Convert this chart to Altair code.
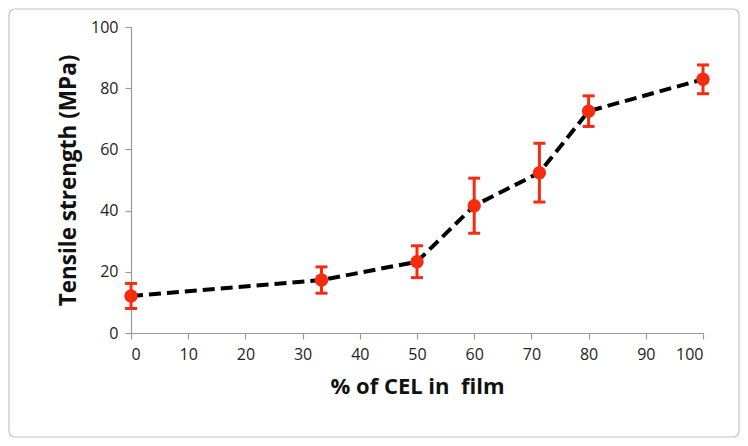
import altair as alt
import pandas as pd

cel_pct = [0, 33.3, 50, 60, 71.4, 80, 100]
strength = [12.1, 17.3, 23.3, 41.6, 52.4, 72.5, 82.9]
err = [4.1, 4.3, 5.2, 9.0, 9.6, 5.0, 4.7]

df = pd.DataFrame({"x": cel_pct, "y": strength, "e": err})
df["lo"] = df["y"] - df["e"]
df["hi"] = df["y"] + df["e"]

W, H = 572, 306
xs = alt.Scale(domain=[0, 100], nice=False)
ys = alt.Scale(domain=[0, 100], nice=False)

red = "#f52c10"

frame = alt.Chart(pd.DataFrame({"a": [0]})).mark_rect(
    fillOpacity=0, stroke="#c4c4c4", strokeWidth=1.2, cornerRadius=6
).encode(
    x=alt.value(-122), x2=alt.value(608), y=alt.value(-18), y2=alt.value(410)
)

base = alt.Chart(df)

line = base.mark_line(color="black", strokeWidth=4, strokeDash=[12, 6]).encode(
    x=alt.X("x:Q", scale=xs,
            axis=alt.Axis(title="% of CEL in\u00a0 film", values=list(range(0, 101, 10)))),
    y=alt.Y("y:Q", scale=ys,
            axis=alt.Axis(title="Tensile strength (MPa)", values=list(range(0, 101, 20)))),
)

bars = base.mark_rule(color=red, strokeWidth=3).encode(
    x=alt.X("x:Q", scale=xs), y=alt.Y("lo:Q", scale=ys), y2="hi:Q"
)
caps_lo = base.mark_tick(color=red, thickness=3, size=12, orient="horizontal", opacity=1).encode(
    x=alt.X("x:Q", scale=xs), y=alt.Y("lo:Q", scale=ys)
)
caps_hi = base.mark_tick(color=red, thickness=3, size=12, orient="horizontal", opacity=1).encode(
    x=alt.X("x:Q", scale=xs), y=alt.Y("hi:Q", scale=ys)
)
pts = base.mark_circle(color=red, size=180, opacity=1).encode(
    x=alt.X("x:Q", scale=xs), y=alt.Y("y:Q", scale=ys)
)

chart = alt.layer(frame, line, bars, caps_lo, caps_hi, pts).properties(
    width=W, height=H,
    autosize=alt.AutoSizeParams(type="none"),
    padding={"left": 123, "top": 19, "right": 37, "bottom": 105},
).configure_view(stroke=None).configure_axis(
    grid=False, zindex=1,
    domainColor="#9a9a9a", domainWidth=1.2,
    tickColor="#9a9a9a", tickSize=6, tickWidth=1.2,
    labelFont="Open Sans", labelFontSize=16, labelColor="#222222",
    titleFont="Open Sans", titleFontWeight="bold", titleColor="#111111",
).configure_axisX(
    labelPadding=7, titlePadding=14, titleFontSize=22
).configure_axisY(
    labelPadding=7, titlePadding=10, titleFontSize=22.5
)

chart.save("out.html", embed_options={"renderer": "svg", "actions": False})
